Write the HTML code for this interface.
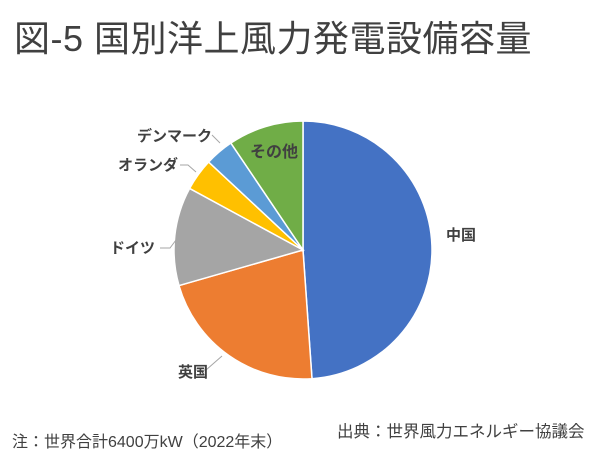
<!DOCTYPE html>
<html><head><meta charset="utf-8"><style>
html,body{margin:0;padding:0;background:#fff;}
body{width:600px;height:458px;overflow:hidden;position:relative;font-family:"Liberation Sans","Noto Sans CJK JP",sans-serif;}
.t{position:absolute;white-space:nowrap;color:#404040;}
</style></head><body>
<div class="t" style="left:14px;top:10px;font-size:36px;letter-spacing:0.5px;color:#404040;">図-5 国別洋上風力発電設備容量</div>
<svg id="s" width="600" height="458" style="position:absolute;left:0;top:0">
<g id="p"></g>
<g stroke="#a6a6a6" fill="none" stroke-width="1">
<polyline points="222,356 206,370 196,370"/>
<polyline points="176,240 170,248 160,248"/>
<polyline points="196,172 188,165 180,165"/>
<polyline points="220,143 212,135"/>
</g>
<g font-family="Liberation Sans, Noto Sans CJK JP, sans-serif" font-weight="bold" font-size="15" fill="#404040">
<text x="446" y="240">中国</text>
<text x="178" y="377">英国</text>
<text x="110" y="253">ドイツ</text>
<text x="118" y="170">オランダ</text>
<text x="137" y="141">デンマーク</text>
<text x="250" y="157" font-size="16">その他</text>
</g>
</svg>
<div class="t" style="left:12px;top:428px;font-size:16px;">注：世界合計6400万kW（2022年末）</div>
<div class="t" style="left:337px;top:418px;font-size:16.5px;">出典：世界風力エネルギー協議会</div>
<script>
var cx=303,cy=250,r=129;
var b=[0,176,254,298.5,313,326,360];
var c=["#4472c4","#ed7d31","#a5a5a5","#ffc000","#5b9bd5","#70ad47"];
function pt(a){a=a*Math.PI/180;return [cx+r*Math.sin(a),cy-r*Math.cos(a)];}
var h="";
for(var i=0;i<6;i++){var p=pt(b[i]),q=pt(b[i+1]);var l=(b[i+1]-b[i])>180?1:0;
h+='<path d="M'+cx+','+cy+' L'+p[0]+','+p[1]+' A'+r+','+r+' 0 '+l+' 1 '+q[0]+','+q[1]+' Z" fill="'+c[i]+'" stroke="#fff" stroke-width="1.5"/>';}
document.getElementById("p").innerHTML=h;
</script>
</body></html>
